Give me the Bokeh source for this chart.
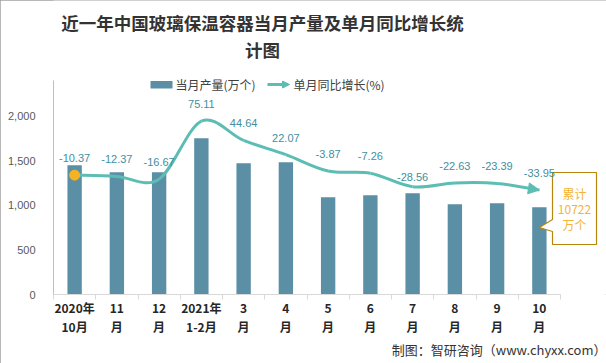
from bokeh.plotting import figure
from bokeh.models import (Range1d, LinearAxis, FixedTicker, Label, Arrow, NormalHead,
                          NumeralTickFormatter, Title, InlineStyleSheet)
from bokeh.embed import file_html
from bokeh.resources import INLINE

# ---------------- data ----------------
line1_labels = ["2020年", "11", "12", "2021年", "3", "4", "5", "6", "7", "8", "9", "10"]
line2_labels = ["10月", "月", "月", "1-2月", "月", "月", "月", "月", "月", "月", "月", "月"]
production = [1450, 1370, 1370, 1753, 1472, 1483, 1090, 1112, 1135, 1011, 1022, 978]
yoy_growth = [-10.37, -12.37, -16.67, 75.11, 44.64, 22.07, -3.87, -7.26, -28.56, -22.63, -23.39, -33.95]
cumulative_total = 10722
y_ticks = [0, 500, 1000, 1500, 2000]

title_lines = ["近一年中国玻璃保温容器当月产量及单月同比增长统", "计图"]
legend_bar = "当月产量(万个)"
legend_line = "单月同比增长(%)"
source_text = "制图：智研咨询（www.chyxx.com）"

# ---------------- styles ----------------
BAR_C = "#5B8FA6"
LINE_C = "#5CBDB4"
LBL_C = "#418FA1"
DOT_C = "#F5B324"
CJK = "Noto Sans CJK SC"
LAT = "Liberation Sans"
label_dy = [-17, -17, -17, -17, -17, -17, -17, -17, -10, -17, -17, -17]

# layout (pixels)
W, H = 606, 363
FL = 53            # frame left
FB = 294           # frame bottom (value 0)
AXIS_TOP = 80      # top of the value axis
PX_PER_CAT = 42.25
FW = W - FL
FH = FB            # frame reaches the top of the canvas
YMAX_AXIS = 2400
PX_PER_UNIT = (FB - AXIS_TOP) / YMAX_AXIS
PCT_LO, PCT_PER_PX = -199.2, 338.6 / (FB - AXIS_TOP)

def dx(px):
    return (px - FL) / PX_PER_CAT

def dy(py):
    return (FB - py) / PX_PER_UNIT

n = len(production)
centers = [i + 0.5 for i in range(n)]

p = figure(frame_width=FW, frame_height=FH,
           x_range=Range1d(0, FW / PX_PER_CAT), y_range=Range1d(0, FH / PX_PER_UNIT),
           output_backend="svg", toolbar_location=None,
           min_border_left=FL, min_border_right=0, min_border_top=0, min_border_bottom=H - FB)
p.extra_y_ranges = {"pct": Range1d(PCT_LO, PCT_LO + FH * PCT_PER_PX)}
p.xgrid.visible = False
p.ygrid.visible = False
p.outline_line_color = None
p.background_fill_color = "white"
p.border_fill_color = "white"
p.stylesheets = [InlineStyleSheet(css=":host { outline: 1px solid #A0A0A0; outline-offset: -1px; }")]

# y axis
ya = p.yaxis[0]
ya.bounds = (0, YMAX_AXIS)
ya.ticker = FixedTicker(ticks=y_ticks)
ya.formatter = NumeralTickFormatter(format="0,0")
ya.major_tick_line_color = None
ya.minor_tick_line_color = None
ya.axis_line_color = "#BFBFBF"
ya.major_label_text_color = "#595959"
ya.major_label_text_font = LAT
ya.major_label_text_font_size = "11px"
ya.major_label_standoff = 12

# x axis (row 1) with boundary ticks
xa = p.xaxis[0]
xa.bounds = (0, n)
xa.ticker = FixedTicker(ticks=centers, minor_ticks=list(range(n + 1)))
xa.axis_line_color = "#D9D9D9"
xa.major_tick_line_color = None
xa.major_tick_out = 0
xa.major_tick_in = 0
xa.minor_tick_line_color = "#D9D9D9"
xa.minor_tick_out = 5
xa.minor_tick_in = 0
xa.major_label_overrides = {c: t for c, t in zip(centers, line1_labels)}
xa.major_label_text_font = CJK
xa.major_label_text_font_style = "bold"
xa.major_label_text_font_size = "12px"
xa.major_label_text_color = "#262626"
xa.major_label_standoff = -1

# x axis (row 2)
xa2 = LinearAxis(ticker=FixedTicker(ticks=centers))
xa2.axis_line_color = None
xa2.major_tick_line_color = None
xa2.minor_tick_line_color = None
xa2.major_tick_out = 0
xa2.major_tick_in = 0
xa2.major_label_overrides = {c: t for c, t in zip(centers, line2_labels)}
xa2.major_label_text_font = CJK
xa2.major_label_text_font_style = "bold"
xa2.major_label_text_font_size = "12px"
xa2.major_label_text_color = "#262626"
xa2.major_label_standoff = -1
p.add_layout(xa2, "below")

# source line
p.add_layout(Title(text=source_text, align="right", offset=0, standoff=0,
                   text_font=CJK, text_font_size="13px", text_font_style="normal",
                   text_color="#333333"), "below")

# title
for i, t in enumerate(title_lines):
    p.add_layout(Label(x=dx(262), y=dy(22 + 27 * i), text=t, text_align="center",
                       text_baseline="middle", text_font=CJK, text_font_style="bold",
                       text_font_size="17.5px", text_color="#333333"))

# bars
p.vbar(x=centers, top=production, width=0.34, fill_color=BAR_C, line_color=None)

# smoothed line (Bezier through the data points)
xs0, ys0, xs1, ys1, cx0, cy0, cx1, cy1 = [], [], [], [], [], [], [], []
for i in range(n - 1):
    a = max(i - 1, 0)
    d = min(i + 2, n - 1)
    xs0.append(centers[i]); ys0.append(yoy_growth[i])
    xs1.append(centers[i + 1]); ys1.append(yoy_growth[i + 1])
    cx0.append(centers[i] + (centers[i + 1] - centers[a]) / 6)
    cy0.append(yoy_growth[i] + (yoy_growth[i + 1] - yoy_growth[a]) / 6)
    cx1.append(centers[i + 1] - (centers[d] - centers[i]) / 6)
    cy1.append(yoy_growth[i + 1] - (yoy_growth[d] - yoy_growth[i]) / 6)
p.bezier(x0=xs0, y0=ys0, x1=xs1, y1=ys1, cx0=cx0, cy0=cy0, cx1=cx1, cy1=cy1,
         line_color=LINE_C, line_width=3, y_range_name="pct")
p.add_layout(Arrow(end=NormalHead(size=11, fill_color=LINE_C, line_color=LINE_C),
                   x_start=cx1[-1], y_start=cy1[-1], x_end=centers[-1], y_end=yoy_growth[-1],
                   line_color=LINE_C, line_width=3, y_range_name="pct"))
p.scatter(x=[centers[0]], y=[yoy_growth[0]], size=10, fill_color=DOT_C, line_color=DOT_C,
          y_range_name="pct")

# data labels
for c, v, off in zip(centers, yoy_growth, label_dy):
    p.add_layout(Label(x=c, y=v, y_range_name="pct", text=f"{v:.2f}", y_offset=-off,
                       text_align="center", text_baseline="middle", text_font=LAT,
                       text_font_size="11px", text_color=LBL_C))

# legend
p.quad(left=[dx(150)], right=[dx(172)], top=[dy(80.5)], bottom=[dy(88)],
       fill_color=BAR_C, line_color=None)
p.add_layout(Label(x=dx(175), y=dy(84), text=legend_bar, text_baseline="middle",
                   text_font=CJK, text_font_size="12px", text_color="#404040"))
p.add_layout(Arrow(end=NormalHead(size=7, fill_color=LINE_C, line_color=LINE_C),
                   x_start=dx(267), y_start=dy(84), x_end=dx(289), y_end=dy(84),
                   line_color=LINE_C, line_width=3))
p.add_layout(Label(x=dx(293), y=dy(84), text=legend_line, text_baseline="middle",
                   text_font=CJK, text_font_size="12px", text_color="#404040"))

# callout with cumulative total
tip_x = centers[-1]
bl, br = dx(552), dx(596)
bt, bb = dy(172), dy(244)
callout_x = [bl, br, br, bl, bl, tip_x, bl]
callout_y = [bt, bt, bb, bb, dy(231), dy(227), dy(219)]
p.patch(x=callout_x, y=callout_y, fill_color="white", line_color="#B8860B", line_width=1.2)
for j, t in enumerate(["累计", str(cumulative_total), "万个"]):
    p.add_layout(Label(x=dx(574), y=dy(193 + 15.5 * j), text=t, text_align="center",
                       text_baseline="middle", text_font=CJK, text_font_size="12px",
                       text_color="#F5B335"))

open("out.html", "w").write(file_html(p, INLINE))
